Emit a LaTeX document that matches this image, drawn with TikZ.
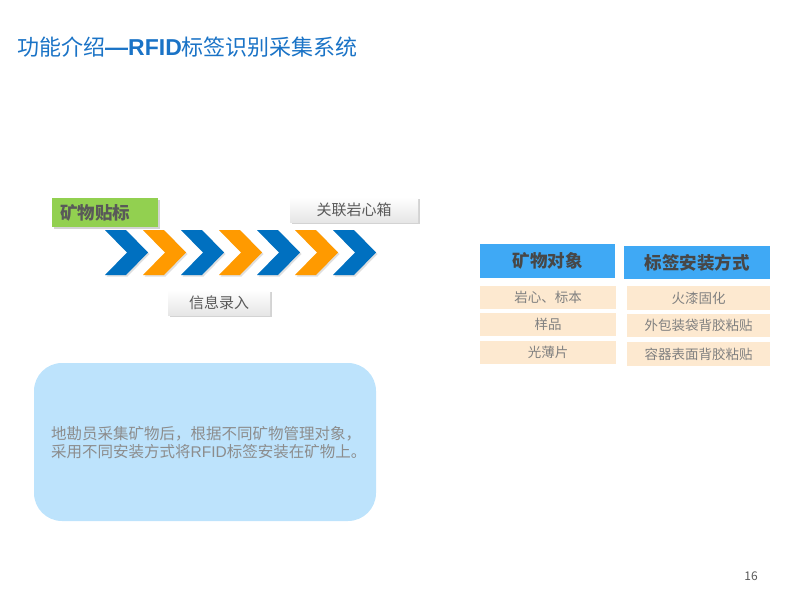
\documentclass[tikz,border=0pt]{standalone}
\usepackage{fontspec}
\setmainfont{Noto Sans CJK SC}
\newfontfamily\latinsans{Liberation Sans}
\usetikzlibrary{shadows}
\definecolor{titleblue}{HTML}{1A73C6}
\definecolor{chblue}{HTML}{0070C0}
\definecolor{chorange}{HTML}{FF9A00}
\definecolor{tgreen}{HTML}{92D050}
\definecolor{hdrblue}{HTML}{3FA9F5}
\definecolor{cellbg}{HTML}{FDE9D0}
\definecolor{boxblue}{HTML}{BDE3FC}
\definecolor{darktxt}{HTML}{595959}
\definecolor{midtxt}{HTML}{808080}
\tikzset{
  graybox/.style={shade, top color=white, bottom color=black!10, drop shadow={shadow xshift=2pt, shadow yshift=-2pt, opacity=0.35}, font=\fontsize{15}{15}\selectfont, text=darktxt, minimum height=25pt, inner sep=0pt},
  hdr/.style={fill=hdrblue, text=darktxt!80!black, font=\fontsize{17.5}{17.5}\bfseries\selectfont, inner sep=0pt},
  cell/.style={fill=cellbg, text=midtxt, font=\fontsize{13.5}{13.5}\selectfont, inner sep=0pt},
  chev/.style={fill=#1, drop shadow={shadow xshift=1.5pt, shadow yshift=-1.5pt, opacity=0.25}}
}
\begin{document}
\begin{tikzpicture}[x=1pt,y=-1pt]
\useasboundingbox (0,0) rectangle (800,600);
% title
\node[anchor=west, text=titleblue, font=\fontsize{22}{22}\selectfont, inner sep=0pt] (title) at (17,47) {功能介绍{\latinsans\bfseries\fontsize{23}{23}\selectfont —RFID}标签识别采集系统};
% chevrons
\foreach \i/\c in {0/chblue,1/chorange,2/chblue,3/chorange,4/chblue,5/chorange,6/chblue}{
  \pgfmathsetmacro{\xo}{105+\i*38}
  \path[chev=\c] (\xo,230) -- (\xo+21,230) -- (\xo+43,252.5) -- (\xo+21,275) -- (\xo,275) -- (\xo+22,252.5) -- cycle;
}
% green label
\node[fill=tgreen, drop shadow={shadow xshift=2pt, shadow yshift=-2pt, opacity=0.35}, minimum width=106pt, minimum height=29pt, inner sep=0pt] (green) at (105,212.5) {};
\node[anchor=west, text=darktxt, font=\fontsize{17.5}{17.5}\bfseries\selectfont, inner sep=0pt] (greentxt) at (60,212.5) {矿物贴标};
% gray labels
\node[graybox, minimum width=128pt] (box1) at (354,209.5) {关联岩心箱};
\node[graybox, minimum width=102pt] (box2) at (219,302.5) {信息录入};
% table headers
\node[hdr, minimum width=135pt, minimum height=34pt] (h1) at (547.5,261) {矿物对象};
\node[hdr, minimum width=146pt, minimum height=33pt] (h2) at (697,262.5) {标签安装方式};
% cells
\node[cell, minimum width=136pt, minimum height=23pt] (l1) at (548,297.5) {岩心、标本};
\node[cell, minimum width=136pt, minimum height=23pt] (l2) at (548,324.5) {样品};
\node[cell, minimum width=136pt, minimum height=23pt] (l3) at (548,352.5) {光薄片};
\node[cell, minimum width=143pt, minimum height=24pt] (r1) at (698.5,298) {火漆固化};
\node[cell, minimum width=143pt, minimum height=23pt] (r2) at (698.5,325.5) {外包装袋背胶粘贴};
\node[cell, minimum width=143pt, minimum height=24pt] (r3) at (698.5,354) {容器表面背胶粘贴};
% blue rounded box
\node[fill=boxblue, rounded corners=28pt, minimum width=342pt, minimum height=158pt, inner sep=0pt] (desc) at (205,442) {};
\node[anchor=west, align=left, text=black!45, font=\fontsize{15.5}{17.5}\selectfont, inner sep=0pt] (desctxt) at (51,442.5) {地勘员采集矿物后，根据不同矿物管理对象，\\采用不同安装方式将{\latinsans RFID}标签安装在矿物上。};
% page number
\node[text=black!65, font=\fontsize{12}{12}\selectfont, inner sep=0pt] (pg) at (751,576) {16};
\end{tikzpicture}
\end{document}
